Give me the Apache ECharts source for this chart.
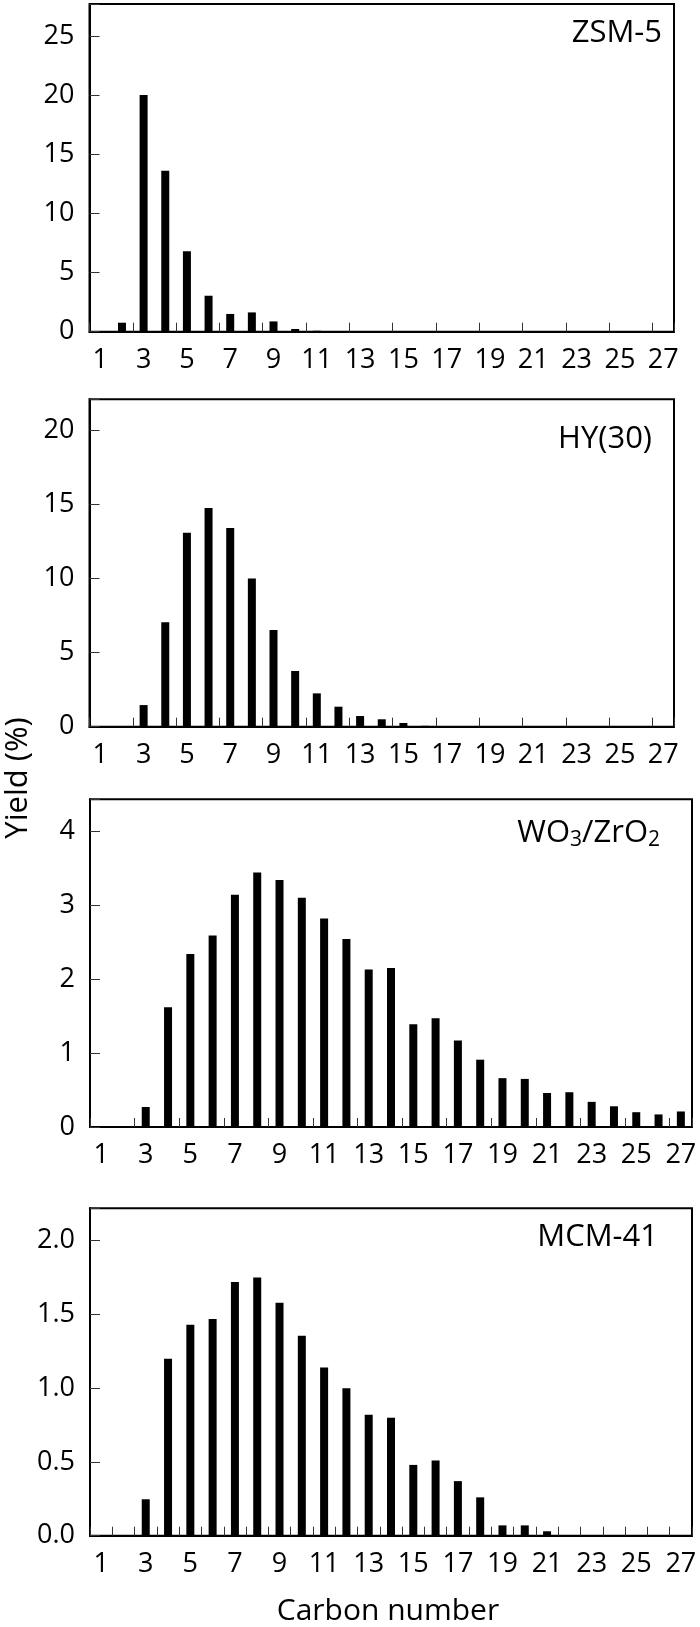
<!DOCTYPE html>
<html>
<head>
<meta charset="utf-8">
<script src="https://cdn.jsdelivr.net/npm/echarts@6/dist/echarts.min.js"></script>
<style>
html,body{margin:0;padding:0;background:#fff;}
#chart{width:700px;height:1627px;}
</style>
</head>
<body>
<div id="chart"></div>
<script>
// ---- data ----
const carbonNumbers = ['1','2','3','4','5','6','7','8','9','10','11','12','13','14','15','16','17','18','19','20','21','22','23','24','25','26','27'];

const zsm5 = [0, 0.76, 20.0, 13.6, 6.8, 3.04, 1.5, 1.63, 0.87, 0.23, 0.08, 0, 0, 0, 0, 0, 0, 0, 0, 0, 0, 0, 0, 0, 0, 0, 0];
const hy30 = [0, 0, 1.46, 7.05, 13.1, 14.77, 13.42, 10.0, 6.53, 3.76, 2.25, 1.35, 0.72, 0.5, 0.25, 0.06, 0, 0, 0, 0, 0, 0, 0, 0, 0, 0, 0];
const wo3zro2 = [0, 0, 0.27, 1.62, 2.34, 2.59, 3.14, 3.44, 3.34, 3.10, 2.82, 2.54, 2.13, 2.15, 1.39, 1.47, 1.17, 0.91, 0.66, 0.65, 0.46, 0.47, 0.34, 0.28, 0.20, 0.17, 0.21];
const mcm41 = [0, 0, 0.247, 1.20, 1.43, 1.47, 1.72, 1.75, 1.58, 1.355, 1.14, 1.00, 0.82, 0.80, 0.48, 0.51, 0.37, 0.26, 0.07, 0.07, 0.03, 0, 0, 0, 0, 0, 0];

const panelNames = ['ZSM-5', 'HY(30)', 'WO3/ZrO2', 'MCM-41'];
const yMax = [27.7, 22.1, 4.43, 2.22];
const yInterval = [5, 5, 1, 0.5];
const yDecimals = [0, 0, 0, 1];
const xTickInterval = [1, 1, 1, 0];
const yAxisTitle = 'Yield (%)';
const xAxisTitle = 'Carbon number';

// ---- layout ----
const seriesData = [zsm5, hy30, wo3zro2, mcm41];
const grids = [
  {left: 89.5, top: 4, width: 584.5, height: 327.7},
  {left: 89.5, top: 399.3, width: 584.5, height: 327.4},
  {left: 90, top: 799.3, width: 602, height: 327.7},
  {left: 90, top: 1208.3, width: 602, height: 327.4}
];
const FONT = '"Open Sans", "Noto Sans", sans-serif';
const TICK_FS = 27;

const option = {
  animation: false,
  backgroundColor: '#fff',
  grid: grids.map(g => Object.assign({show: true, borderColor: '#000', borderWidth: 2, backgroundColor: 'transparent'}, g)),
  xAxis: grids.map((g, i) => ({
    gridIndex: i,
    type: 'category',
    data: carbonNumbers,
    boundaryGap: true,
    axisLine: {show: true, lineStyle: {color: '#000', width: 2}},
    axisTick: {show: true, inside: true, length: 9, interval: xTickInterval[i], lineStyle: {color: '#333', width: 1}},
    axisLabel: {interval: 1, fontSize: TICK_FS, color: '#000', fontFamily: FONT, margin: 15},
    splitLine: {show: false}
  })),
  yAxis: grids.map((g, i) => ({
    gridIndex: i,
    type: 'value',
    min: 0,
    max: yMax[i],
    interval: yInterval[i],
    axisLine: {show: true, lineStyle: {color: '#000', width: 2}},
    axisTick: {show: true, inside: true, length: 10, lineStyle: {color: '#333', width: 1}},
    splitLine: {show: false},
    axisLabel: {
      fontSize: TICK_FS, color: '#000', fontFamily: FONT, margin: 15,
      formatter: function (v) {
        const r = v / yInterval[i];
        if (Math.abs(r - Math.round(r)) > 1e-6) return '';
        return v.toFixed(yDecimals[i]);
      }
    }
  })),
  series: seriesData.map((d, i) => ({
    type: 'bar',
    xAxisIndex: i,
    yAxisIndex: i,
    data: d,
    barWidth: 8,
    itemStyle: {color: '#000'},
    z: 3
  })),
  graphic: [
    {type: 'text', x: 18, y: 778, rotation: Math.PI / 2,
     style: {text: yAxisTitle, font: '31px ' + FONT, fill: '#000', align: 'center', verticalAlign: 'middle'}},
    {type: 'text', x: 388, y: 1611,
     style: {text: xAxisTitle, font: '30px ' + FONT, fill: '#000', align: 'center', verticalAlign: 'middle'}},
    {type: 'text', x: 662, y: 33,
     style: {text: panelNames[0], font: '31px ' + FONT, fill: '#000', align: 'right', verticalAlign: 'middle'}},
    {type: 'text', x: 652, y: 439,
     style: {text: panelNames[1], font: '31px ' + FONT, fill: '#000', align: 'right', verticalAlign: 'middle'}},
    {type: 'text', x: 660, y: 833,
     style: {text: '{n|WO}{s|3}{n|/ZrO}{s|2}', fill: '#000', align: 'right', verticalAlign: 'middle',
       rich: {
         n: {fontSize: 31, fontFamily: FONT, fill: '#000', color: '#000'},
         s: {fontSize: 21, fontFamily: FONT, fill: '#000', color: '#000', padding: [15, 0, 0, 0]}
       }}},
    {type: 'text', x: 658, y: 1237,
     style: {text: panelNames[3], font: '31px ' + FONT, fill: '#000', align: 'right', verticalAlign: 'middle'}}
  ]
};

const chart = echarts.init(document.getElementById('chart'), null, {renderer: 'canvas'});
chart.setOption(option);
</script>
</body>
</html>
